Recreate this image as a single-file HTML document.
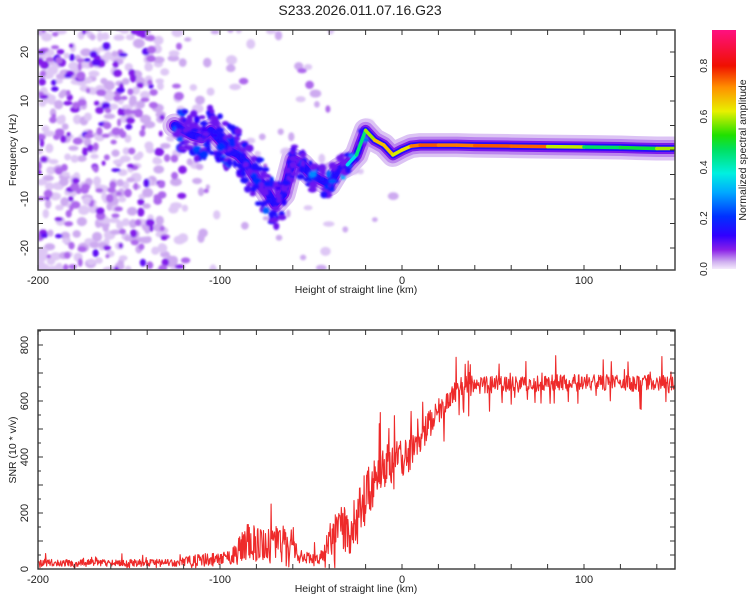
<!DOCTYPE html>
<html><head><meta charset="utf-8"><style>
body{margin:0;background:#fff;}
svg text{font-family:"Liberation Sans",sans-serif;fill:#222;}
</style></head><body>
<svg id="chart" width="750" height="600" xmlns="http://www.w3.org/2000/svg">
<defs>
<linearGradient id="cbar" x1="0" y1="1" x2="0" y2="0">
<stop offset="0" stop-color="#f4eafc"/><stop offset="0.03" stop-color="#d0b0f0"/><stop offset="0.08" stop-color="#8a20e8"/>
<stop offset="0.14" stop-color="#3000ff"/><stop offset="0.22" stop-color="#0030ff"/><stop offset="0.32" stop-color="#00a8ff"/>
<stop offset="0.4" stop-color="#00f0e0"/><stop offset="0.5" stop-color="#00e060"/><stop offset="0.56" stop-color="#20e000"/>
<stop offset="0.66" stop-color="#e8f000"/><stop offset="0.76" stop-color="#ff9000"/><stop offset="0.85" stop-color="#f01000"/>
<stop offset="1" stop-color="#ff1080"/>
</linearGradient>
<filter id="soft" x="-50%" y="-50%" width="200%" height="200%"><feGaussianBlur stdDeviation="1"/></filter>
<clipPath id="clipTop"><rect x="38" y="30" width="637" height="240"/></clipPath>
<clipPath id="clipBot"><rect x="38" y="330" width="637" height="239"/></clipPath>
</defs>
<text x="360" y="15" font-size="14" text-anchor="middle">S233.2026.011.07.16.G23</text>
<g id="topPanel"></g>
<g id="botPanel"></g>
<g id="cb">
<rect x="712" y="30" width="24" height="239" fill="url(#cbar)"/>
</g>
</svg>
<script>
// ---- spectrogram ridge data ----
const ridgeKm   = [-125,-120,-115,-110,-105,-100,-95,-90,-85,-80,-75,-70,-65,-60,-55,-50,-45,-40,-35,-30,-25,-20,-15,-10,-5,0,5,10,20,30,40,60,80,100,120,140,150];
const ridgeHz   = [5,4,3,2.5,4,2,0,-1,-3,-6,-8,-11,-9,-2,-3,-5,-6,-7,-4,-3,-1,4,2,1,-1,0,0.8,1,1,1,0.9,0.8,0.7,0.6,0.5,0.3,0.3];
const ridgeAmp  = [0.25,0.2,0.22,0.2,0.2,0.25,0.25,0.2,0.2,0.22,0.25,0.18,0.15,0.15,0.2,0.3,0.3,0.25,0.3,0.35,0.4,0.55,0.7,0.72,0.7,0.6,0.75,0.8,0.8,0.75,0.8,0.8,0.78,0.5,0.5,0.55,0.7];
const ridgeSpread = [4,4,5,5,5,5,5,5,5,5,5,5,4,3,3,3,3,3,2.5,2,2,1.5,1.5,1.5,1.5,1.5,1,1,1,1,1,1,1,1,1,1,1];
// background noise density per 10-km bin
const noiseBinKm   = [-200,-190,-180,-170,-160,-150,-140,-130,-120,-110,-100,-90,-80,-70,-60,-50,-40,-30,-20,-10,0,10];
const noiseDensity = [75,75,75,75,75,70,62,32,14,8,6,6,6,6,8,8,5,3,2,1,0,0];
// ---- SNR data (every 5 km) ----
const snrKm = [];
for(let k=-200;k<=150;k+=5) snrKm.push(k);
const snrBase = [22,22,22,22,22,22,22,22,22,22,22,22,22,22,22,22,25,
 32,35,35,40,45,60,95,95,85,85,95,65,45,40,35,100,170,140,160,260,300,370,380,390,420,470,520,560,610,640,660,650,660,660,
 660,660,660,660,660,660,665,665,665,665,665,665,665,665,665,665,665,665,660,655];
const snrNoise = [16,16,16,16,16,16,16,16,16,16,16,16,16,16,16,16,18,
 25,28,28,30,35,60,90,85,80,80,90,55,30,25,25,80,100,110,120,120,110,100,90,90,80,70,70,60,55,50,45,45,40,40,
 38,38,38,38,38,38,38,38,38,38,38,38,38,38,38,38,38,38,38,38];

const NS="http://www.w3.org/2000/svg";
function mk(tag,attrs,parent){const e=document.createElementNS(NS,tag);for(const k in attrs)e.setAttribute(k,attrs[k]);parent.appendChild(e);return e;}
const X0=38,X1=675;
const xS=km=>X0+(km+200)*(X1-X0)/350;
const yTop=hz=>150-hz*4.9;
const yBot=v=>569-v*0.28;
let seed=12345;function rnd(){seed=(Math.imul(seed,1103515245)+12345)>>>0;return (seed>>>8)/16777216;}

function cmap(a){
 const st=[[0,[244,234,252]],[0.03,[208,176,240]],[0.08,[138,32,232]],[0.14,[48,0,255]],[0.22,[0,48,255]],[0.32,[0,168,255]],[0.4,[0,240,224]],[0.5,[0,224,96]],[0.56,[32,224,0]],[0.66,[232,240,0]],[0.76,[255,144,0]],[0.85,[240,16,0]],[1,[255,16,128]]];
 for(let i=1;i<st.length;i++){if(a<=st[i][0]){const t=(a-st[i-1][0])/(st[i][0]-st[i-1][0]);const c=st[i-1][1].map((v,j)=>Math.round(v+(st[i][1][j]-v)*t));return 'rgb('+c.join(',')+')';}}
 return 'rgb(255,16,128)';
}

// ----- top panel -----
const topG=document.getElementById('topPanel');
const tg=mk('g',{'clip-path':'url(#clipTop)'},topG);
const noiseG=mk('g',{filter:'url(#soft)'},tg);


[0,1].forEach(pass=>{
noiseBinKm.forEach((k,i)=>{
 const n=Math.round(noiseDensity[i]*(pass===0?0.62:0.38));
 for(let j=0;j<n;j++){
  const km=k+rnd()*10, hz=-25+rnd()*50;
  const r=rnd();
  let a = pass===0 ? (r<0.65?0.018:0.032) : (i<8 ? (r<0.55?0.055:r<0.88?0.085:0.11) : (r<0.7?0.032:0.055));
  const c=mk('ellipse',{cx:xS(km),cy:yTop(hz),rx:(pass===0?3:2)+rnd()*3,ry:(pass===0?2.5:2)+rnd()*2.5,fill:cmap(a)},noiseG);
  
  
 }
});
});
const pts=ridgeKm.map((k,i)=>xS(k)+','+yTop(ridgeHz[i])).join(' ');
[[24,0.02],[17,0.045],[11,0.09],[7,0.16]].forEach(([w,a],li)=>{
 const p=mk('polyline',{points:pts,fill:'none',stroke:cmap(a),'stroke-width':w,'stroke-linejoin':'round','stroke-linecap':'round'},tg);
 
 
});
const rg=mk('g',{filter:'url(#soft)'},tg);


for(let i=0;i<ridgeKm.length-1;i++){
 const span=ridgeKm[i+1]-ridgeKm[i];
 if(ridgeSpread[i]<=1.5) continue;
 const n=Math.round(span*ridgeSpread[i]*0.7);
 for(let j=0;j<n;j++){
  const f=rnd();
  const km=ridgeKm[i]+span*f, hz=ridgeHz[i]+(ridgeHz[i+1]-ridgeHz[i])*f+(rnd()-0.5)*2*ridgeSpread[i];
  const a=rnd()<0.5?0.1:(rnd()<0.6?0.16:ridgeAmp[i]*(0.6+rnd()*0.5));
  const b=mk('ellipse',{cx:xS(km),cy:yTop(hz),rx:2+rnd()*2.5,ry:2+rnd()*2,fill:cmap(a)},rg);
  
  
 }
}
for(let i=0;i<ridgeKm.length-1;i++){
 if(ridgeSpread[i]>2) continue;
 const s=mk('line',{x1:xS(ridgeKm[i]),y1:yTop(ridgeHz[i]),x2:xS(ridgeKm[i+1]),y2:yTop(ridgeHz[i+1]),stroke:cmap((ridgeAmp[i]+ridgeAmp[i+1])/2),'stroke-width':3.5,'stroke-linecap':'round'},tg);
 
 
}
function frame(g,yT,yB,name){
 const r=mk('rect',{x:X0,y:yT,width:X1-X0,height:yB-yT,fill:'none',stroke:'#444','stroke-width':1.5},g);
 
 
 for(let k=-200;k<=150;k+=20){const x=xS(k);mk('line',{x1:x,y1:yB,x2:x,y2:yB-5,stroke:'#333'},g);mk('line',{x1:x,y1:yT,x2:x,y2:yT+5,stroke:'#333'},g);}
 [-200,-100,0,100].forEach(k=>{const t=mk('text',{x:xS(k),y:yB+14,'font-size':11,'text-anchor':'middle'},g);t.textContent=k;
  });
 const xt=mk('text',{x:356,y:yB+23,'font-size':10.5,'text-anchor':'middle'},g);xt.textContent='Height of straight line (km)';
 
}
frame(topG,30,270,'spectrogram-frame');
for(let hz=-20;hz<=20;hz+=5){const y=yTop(hz);mk('line',{x1:X0,y1:y,x2:X0+5,y2:y,stroke:'#333'},topG);mk('line',{x1:X1,y1:y,x2:X1-5,y2:y,stroke:'#333'},topG);}
[-20,-10,0,10,20].forEach(h=>{const t=mk('text',{x:28,y:yTop(h),'font-size':11,'text-anchor':'middle',transform:`rotate(-90 28 ${yTop(h)})`},topG);t.textContent=h;
 });
const yl=mk('text',{x:16,y:150,'font-size':10.5,'text-anchor':'middle',transform:'rotate(-90 16 150)'},topG);yl.textContent='Frequency (Hz)';


// ----- bottom panel -----
const botG=document.getElementById('botPanel');
const bg=mk('g',{'clip-path':'url(#clipBot)'},botG);
let d='';
const SUB=18;
for(let i=0;i<snrKm.length-1;i++){
 for(let s=0;s<SUB;s++){
  const f=s/SUB, km=snrKm[i]+5*f;
  const base=snrBase[i]+(snrBase[i+1]-snrBase[i])*f;
  const amp=snrNoise[i]+(snrNoise[i+1]-snrNoise[i])*f;
  let v=base+(rnd()-0.5)*1.6*amp; if(rnd()<0.06)v+=amp*1.8*(rnd()<0.5?-1:1); if(v<3)v=3+rnd()*10;
  d+=(d?'L':'M')+xS(km).toFixed(1)+','+yBot(v).toFixed(1);
 }
}
const ln=mk('path',{d:d,fill:'none',stroke:'#ee2a2a','stroke-width':1.1,'stroke-linejoin':'round'},bg);


frame(botG,330,569,'snr-frame');
for(let v=0;v<=850;v+=50){const y=yBot(v);const L=v%100===0?5:3;mk('line',{x1:X0,y1:y,x2:X0+L,y2:y,stroke:'#333'},botG);mk('line',{x1:X1,y1:y,x2:X1-5,y2:y,stroke:'#333'},botG);}
[0,200,400,600,800].forEach(v=>{const t=mk('text',{x:28,y:yBot(v),'font-size':11,'text-anchor':'middle',transform:`rotate(-90 28 ${yBot(v)})`},botG);t.textContent=v;
 });
const yl2=mk('text',{x:16,y:450,'font-size':10.5,'text-anchor':'middle',transform:'rotate(-90 16 450)'},botG);yl2.textContent='SNR (10 * v/v)';


const cb=document.getElementById('cb');
[0,0.2,0.4,0.6,0.8].forEach(v=>{const y=269-v*254;const t=mk('text',{x:707,y:y,'font-size':10,'text-anchor':'middle',transform:`rotate(-90 707 ${y})`},cb);t.textContent=v.toFixed(1);
 });
const ct=mk('text',{x:746,y:150,'font-size':10.5,'text-anchor':'middle',transform:'rotate(-90 746 150)'},cb);ct.textContent='Normalized spectral amplitude';

</script>
</body></html>
